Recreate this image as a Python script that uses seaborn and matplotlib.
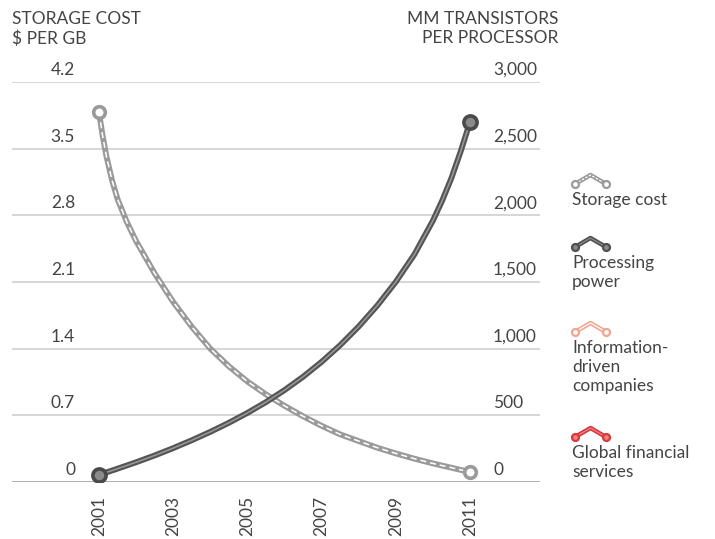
import matplotlib
matplotlib.use("Agg")
import matplotlib.pyplot as plt
import matplotlib.transforms as mtransforms
from matplotlib.lines import Line2D
import seaborn as sns
import pandas as pd

# values
years = [2001, 2001.1, 2001.2, 2001.35, 2001.5, 2001.75, 2002, 2002.5, 2003, 2003.5,
         2004, 2004.5, 2005, 2005.5, 2006, 2006.5, 2007, 2007.5, 2008, 2008.5, 2009, 2009.5,
         2010, 2010.25, 2010.5, 2010.75, 2011]
storage_cost = [3.88, 3.63, 3.42, 3.17, 2.97, 2.73, 2.53, 2.19, 1.89, 1.63,
                1.4, 1.215, 1.055, 0.92, 0.8, 0.69, 0.59, 0.5, 0.43, 0.36, 0.3, 0.245,
                0.195, 0.172, 0.15, 0.127, 0.105]
processing = [55, 63, 72, 86, 100, 124, 148, 199, 254, 313,
              376, 444, 518, 599, 689, 789, 901, 1026, 1166, 1323, 1501, 1706,
              1960, 2110, 2280, 2480, 2700]

left_ticks = [0, 0.7, 1.4, 2.1, 2.8, 3.5, 4.2]
left_labels = ["0", "0.7", "1.4", "2.1", "2.8", "3.5", "4.2"]
right_ticks = [0, 500, 1000, 1500, 2000, 2500, 3000]
right_labels = ["0", "500", "1,000", "1,500", "2,000", "2,500", "3,000"]
xtick_years = [2001, 2003, 2005, 2007, 2009, 2011]

legend_names = ["Storage cost", "Processing\npower", "Information-\ndriven\ncompanies",
                "Global financial\nservices"]

df = pd.DataFrame({"year": years, "storage": storage_cost, "proc": processing})

sns.set_style("white")
plt.rcParams["font.family"] = ["Lato", "DejaVu Sans"]
txt = "#444444"
fs = 12.5

W, H = 715, 539
fig = plt.figure(figsize=(W / 100, H / 100), dpi=100)
ax = fig.add_axes([12 / W, 57 / H, 528 / W, 400 / H])
ax2 = ax.twinx()

x0 = 2001 - 87 / 37.1
x1 = 2011 + 70 / 37.1
for a in (ax, ax2):
    a.set_xlim(x0, x1)
    for s in a.spines.values():
        s.set_visible(False)
    a.set_yticks([])
ax.set_ylim(0, 4.2)
ax2.set_ylim(0, 3000)

# grid lines
for t in left_ticks:
    ax.axhline(t, color="#cccccc", lw=1.1, zorder=0)
ax.axhline(0, color="#aaaaaa", lw=1.2, zorder=0)

# storage cost: grey line with white dashes
sns.lineplot(data=df, x="year", y="storage", ax=ax, color="#9a9a9a", lw=4.2,
             solid_capstyle="round", solid_joinstyle="round", zorder=3)
sns.lineplot(data=df, x="year", y="storage", ax=ax, color="white", lw=1.1,
             dashes=(4, 2.5), zorder=4)
ends = df.iloc[[0, -1]]
ax.scatter(ends["year"], ends["storage"], s=70, facecolor="white",
           edgecolor="#9a9a9a", linewidth=2.6, zorder=5)

# processing power: dark line with lighter centre
sns.lineplot(data=df, x="year", y="proc", ax=ax2, color="#555555", lw=4.2,
             solid_capstyle="round", solid_joinstyle="round", zorder=3)
sns.lineplot(data=df, x="year", y="proc", ax=ax2, color="#9a9a9a", lw=1.1, zorder=4)
ax2.scatter(ends["year"], ends["proc"], s=90, facecolor="#8a8a8a",
            edgecolor="#4a4a4a", linewidth=2.6, zorder=5)
for a in (ax, ax2):
    a.set_ylabel("")
    a.set_xlabel("")

# y tick labels drawn above the grid lines, inside the plot
lt = mtransforms.blended_transform_factory(fig.transFigure, ax.transData)
for t, lab in zip(left_ticks, left_labels):
    ax.text(75 / W, t, lab, transform=mtransforms.offset_copy(lt, fig=fig, y=4, units="dots"),
            ha="right", va="bottom", fontsize=fs, color=txt)
rt = mtransforms.blended_transform_factory(fig.transFigure, ax2.transData)
for t, lab in zip(right_ticks, right_labels):
    ax2.text(493 / W, t, lab, transform=mtransforms.offset_copy(rt, fig=fig, y=4, units="dots"),
             ha="left", va="bottom", fontsize=fs, color=txt)

# x ticks
ax.set_xticks(xtick_years)
ax.set_xticklabels([str(y) for y in xtick_years], rotation=90, fontsize=fs, color=txt)
ax.tick_params(axis="x", length=0, pad=10)
ax2.tick_params(axis="x", length=0)

# axis headers
fig.text(12 / W, 1 - 11 / H, "STORAGE COST\n$ PER GB", ha="left", va="top",
         fontsize=fs, color=txt, linespacing=1.25)
fig.text(558 / W, 1 - 11 / H, "MM TRANSISTORS\nPER PROCESSOR", ha="right", va="top",
         fontsize=fs, color=txt, linespacing=1.25)

# legend on the right
leg_styles = [("#9a9a9a", "white", (0, (2, 1.2))), ("#4f4f4f", "#8a8a8a", "-"),
              ("#f2a48f", "white", "-"), ("#d8383c", "#f08080", "-")]
icon_y = [179, 242, 327, 432]
for (outer, inner, ls), yy, name in zip(leg_styles, icon_y, legend_names):
    xs = [575 / W, 590.5 / W, 606 / W]
    ys = [1 - (yy + 5) / H, 1 - (yy - 4) / H, 1 - (yy + 5) / H]
    fig.add_artist(Line2D(xs, ys, color=outer, lw=3.2, transform=fig.transFigure,
                          solid_joinstyle="round"))
    fig.add_artist(Line2D(xs, ys, color=inner, lw=0.9, ls=ls, transform=fig.transFigure))
    for px, py in [(xs[0], ys[0]), (xs[-1], ys[-1])]:
        fig.add_artist(Line2D([px], [py], marker="o", ms=5, mfc=inner,
                              mec=outer, mew=1.6, transform=fig.transFigure))
    fig.text(572 / W, 1 - (yy + 13) / H, name, ha="left", va="top", fontsize=fs,
             color=txt, linespacing=1.22)

fig.savefig("out.png", dpi=100)
